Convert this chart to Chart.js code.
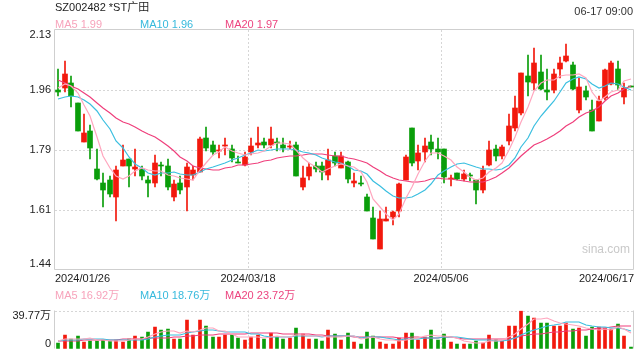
<!DOCTYPE html>
<html><head><meta charset="utf-8">
<script src="https://cdn.jsdelivr.net/npm/chart.js@4.4.1/dist/chart.umd.min.js"></script>
<style>
html,body{margin:0;padding:0;background:#fff;}
#wrap{position:relative;width:640px;height:360px;overflow:hidden;font-family:"Liberation Sans","Noto Sans CJK SC",Arial,sans-serif;}
.t{position:absolute;font-size:11px;line-height:14px;white-space:nowrap;}
canvas{position:absolute;left:0;}
</style></head><body>
<div id="wrap">
<canvas id="c1" width="640" height="292" style="top:0"></canvas>
<canvas id="c2" width="640" height="60" style="top:300px"></canvas>
</div>
<script>
// ---------- data ----------
const stockTitle = 'SZ002482 *ST广田';
const stamp = '06-17 09:00';
const opens  = [1.957,1.963,1.978,1.920,1.809,1.840,1.729,1.690,1.698,1.651,
1.740,1.759,1.731,1.730,1.698,1.690,1.740,1.739,1.651,1.690,
1.680,1.713,1.722,1.820,1.799,1.781,1.797,1.788,1.751,1.741,
1.780,1.800,1.807,1.800,1.808,1.800,1.793,1.799,1.680,1.711,
1.738,1.740,1.714,1.769,1.732,1.750,1.691,1.689,1.649,1.590,
1.501,1.582,1.591,1.611,1.700,1.848,1.752,1.779,1.808,1.788,
1.788,1.701,1.719,1.702,1.711,1.698,1.671,1.741,1.788,1.769,
1.810,1.848,1.891,1.998,1.978,2.009,1.957,1.958,2.019,2.040,
2.028,1.901,1.956,1.901,1.869,1.934,1.975,2.018,1.937,1.968];
const highs  = [2.019,2.040,1.999,1.921,1.888,1.858,1.789,1.719,1.709,1.738,
1.798,1.760,1.789,1.738,1.709,1.770,1.750,1.759,1.698,1.709,
1.748,1.740,1.821,1.850,1.810,1.800,1.820,1.800,1.769,1.778,
1.820,1.850,1.820,1.850,1.820,1.820,1.810,1.809,1.740,1.748,
1.750,1.750,1.789,1.779,1.779,1.752,1.719,1.709,1.659,1.620,
1.611,1.620,1.611,1.690,1.771,1.848,1.798,1.820,1.829,1.820,
1.788,1.714,1.719,1.728,1.719,1.698,1.740,1.810,1.800,1.798,
1.888,1.939,2.006,2.059,2.078,2.059,2.017,2.019,2.051,2.090,
2.038,1.992,1.968,1.930,1.939,2.017,2.040,2.040,1.978,1.970];
const lows   = [1.939,1.952,1.909,1.839,1.808,1.760,1.700,1.620,1.650,1.580,
1.740,1.680,1.709,1.700,1.650,1.680,1.709,1.670,1.639,1.659,
1.611,1.700,1.722,1.781,1.771,1.762,1.770,1.750,1.748,1.740,
1.771,1.791,1.791,1.791,1.781,1.780,1.788,1.711,1.670,1.700,
1.722,1.700,1.700,1.738,1.732,1.690,1.680,1.681,1.611,1.530,
1.501,1.580,1.570,1.591,1.700,1.740,1.728,1.750,1.772,1.760,
1.690,1.681,1.700,1.695,1.697,1.631,1.661,1.738,1.752,1.760,
1.800,1.839,1.886,1.939,1.958,1.958,1.930,1.949,1.992,2.038,
1.958,1.891,1.930,1.840,1.869,1.930,1.971,1.958,1.917,1.965];
const closes = [1.951,2.003,1.939,1.840,1.834,1.792,1.702,1.671,1.659,1.727,
1.755,1.740,1.737,1.711,1.691,1.748,1.738,1.680,1.687,1.670,
1.736,1.727,1.817,1.791,1.780,1.785,1.800,1.761,1.749,1.765,
1.796,1.805,1.800,1.817,1.805,1.791,1.796,1.711,1.704,1.736,
1.731,1.722,1.757,1.748,1.769,1.703,1.696,1.687,1.611,1.530,
1.587,1.587,1.608,1.687,1.765,1.748,1.775,1.796,1.789,1.779,
1.708,1.704,1.702,1.716,1.709,1.671,1.727,1.785,1.769,1.794,
1.853,1.906,2.006,1.980,2.035,1.961,1.951,2.003,2.035,2.054,
1.961,1.965,1.938,1.840,1.927,2.016,2.035,1.971,1.963,1.966];
const ma5  = [1.962,1.975,1.970,1.950,1.913,1.882,1.821,1.768,1.732,1.710,
1.703,1.710,1.724,1.734,1.727,1.725,1.725,1.714,1.709,1.705,
1.702,1.700,1.727,1.748,1.770,1.780,1.795,1.783,1.775,1.772,
1.774,1.775,1.783,1.797,1.805,1.804,1.802,1.784,1.761,1.748,
1.736,1.721,1.730,1.739,1.745,1.740,1.735,1.721,1.693,1.645,
1.622,1.600,1.585,1.600,1.647,1.679,1.717,1.754,1.775,1.777,
1.769,1.755,1.736,1.722,1.708,1.700,1.705,1.722,1.732,1.749,
1.786,1.821,1.866,1.908,1.956,1.978,1.987,1.986,1.997,2.001,
2.001,2.004,1.991,1.952,1.926,1.937,1.951,1.958,1.982,1.990];
const ma10 = [1.932,1.937,1.940,1.937,1.930,1.918,1.896,1.870,1.845,1.812,
1.792,1.766,1.746,1.733,1.719,1.714,1.718,1.719,1.721,1.716,
1.714,1.713,1.721,1.729,1.737,1.741,1.747,1.755,1.762,1.771,
1.777,1.785,1.783,1.786,1.788,1.789,1.789,1.784,1.779,1.776,
1.770,1.761,1.757,1.750,1.747,1.738,1.728,1.725,1.716,1.695,
1.681,1.668,1.653,1.647,1.646,1.651,1.659,1.669,1.687,1.712,
1.724,1.736,1.745,1.748,1.743,1.735,1.730,1.729,1.727,1.729,
1.743,1.763,1.794,1.820,1.853,1.882,1.904,1.926,1.952,1.978,
1.989,1.995,1.988,1.974,1.964,1.969,1.977,1.974,1.967,1.958];
const ma20 = [1.987,1.978,1.970,1.960,1.949,1.936,1.921,1.905,1.890,1.877,
1.866,1.860,1.851,1.841,1.831,1.822,1.811,1.797,1.781,1.764,
1.753,1.739,1.733,1.731,1.728,1.728,1.733,1.737,1.742,1.743,
1.745,1.749,1.752,1.757,1.763,1.765,1.768,1.769,1.770,1.774,
1.773,1.773,1.770,1.768,1.767,1.763,1.758,1.754,1.748,1.736,
1.725,1.714,1.705,1.698,1.696,1.694,1.693,1.697,1.702,1.704,
1.703,1.702,1.699,1.697,1.694,1.693,1.694,1.699,1.707,1.720,
1.734,1.750,1.769,1.784,1.798,1.808,1.817,1.827,1.840,1.853,
1.866,1.879,1.891,1.897,1.908,1.925,1.941,1.950,1.960,1.968];
const volumes = [7,15,11,14,7.6,8.6,8.6,9.7,8.6,10,
8,11,14,12.5,18,22.8,19.6,20.4,11,10.5,
30.6,15,29.8,23.5,12.5,13,14.4,14.4,11.8,9.4,
12.5,15,10.5,16.5,13,10.5,11.8,22,15.7,10.5,
10.5,8.6,19.6,15.7,9.4,16.5,7.8,5.8,18,13.3,
7.8,5.5,5.5,11.8,16.5,16.5,9.4,13,19.6,10,
15.7,7.8,5.5,5.5,5.5,8.6,7,15,9.4,8.6,
23.5,24.3,39.77,34.5,32.2,26.7,27.5,23.5,24.3,27.5,
20.4,22,13.3,22.8,22.8,22,20.4,25.9,14,2.5];
const volMa5 = [9.0,10.2,10.5,11.0,10.92,11.24,9.96,9.70,8.62,9.10,
8.98,9.46,10.32,11.10,12.70,15.66,17.38,18.66,18.36,16.86,
18.42,17.50,19.38,21.88,22.28,18.76,18.64,15.56,13.22,12.60,
12.50,12.62,11.84,12.78,13.50,13.10,12.46,14.76,14.60,14.10,
14.10,13.46,12.98,12.98,12.76,13.96,13.80,11.04,11.50,12.28,
10.54,10.08,10.02,8.78,9.42,11.16,11.94,13.44,15.00,13.70,
13.54,13.22,11.72,8.90,8.00,6.58,6.42,8.32,9.10,9.72,
12.70,16.16,21.11,26.13,30.85,31.49,32.13,28.88,26.84,25.90,
24.64,23.54,21.50,21.20,20.26,20.58,20.26,22.78,21.02,16.96];
const volMa10 = [9.0,9.3,9.6,10.0,10.2,10.5,10.3,10.2,10.0,10.01,
10.11,9.71,10.01,9.86,10.90,12.32,13.42,14.49,14.73,14.78,
17.04,17.44,19.02,20.12,19.57,18.59,18.07,17.47,17.55,17.44,
15.63,15.63,13.70,13.00,13.05,12.80,12.54,13.30,13.69,13.80,
13.60,12.96,13.87,13.79,13.43,14.03,13.63,12.01,12.24,12.52,
12.25,11.94,10.53,10.14,10.85,10.85,11.01,11.73,11.89,11.56,
12.35,12.58,12.58,11.95,10.85,10.06,9.82,10.02,9.00,8.86,
9.64,11.29,14.72,17.62,20.29,22.10,24.15,25.00,26.49,28.38,
28.07,27.84,25.19,24.02,23.08,22.61,21.90,22.14,21.11,18.61];
const volMa20 = [8.5,8.6,8.8,9.0,9.2,9.4,9.5,9.6,9.8,10.0,
10.2,10.4,10.6,10.9,11.2,11.5,11.8,12.0,12.2,12.40,
13.58,13.58,14.52,14.99,15.24,15.46,15.75,15.98,16.14,16.11,
16.34,16.54,16.36,16.56,16.31,15.70,15.31,15.39,15.62,15.62,
14.62,14.30,13.79,13.40,13.24,13.42,13.09,12.66,12.97,13.16,
12.93,12.45,12.20,11.97,12.14,12.44,12.32,11.87,12.07,12.04,
12.30,12.26,11.56,11.05,10.85,10.46,10.42,10.88,10.45,10.21,
11.00,11.94,13.65,14.78,15.57,16.08,16.98,17.51,17.74,18.62,
18.85,19.56,19.95,20.82,21.68,22.35,23.02,23.57,23.80,23.49];
const maNames = ['MA5','MA10','MA20'];
const priceMaLegend = ['1.99','1.96','1.97'];
const volMaLegend = ['16.92万','18.76万','23.72万'];
const xTickIndex = [0,30,60,89];
const xTickLabels = ['2024/01/26','2024/03/18','2024/05/06','2024/06/17'];
const yTickValues = [1.44,1.6125,1.785,1.9575,2.13];
const yTickLabels = ['1.44','1.61','1.79','1.96','2.13'];
const volTickValues = [0,39.77];
const volTickLabels = ['0','39.77万'];

// ---------- styles ----------
const FONT = '"Liberation Sans","Noto Sans CJK SC",Arial,sans-serif';
const RED = '#f2190d', GREEN = '#0a9e0a';
const MA_COLORS = ['#ffa6be','#3bbfe0','#ef3f7c'];
const LEG_COLORS = ['#f7a3bb','#36b9dc','#ec447f'];
const GRID = '#d6d6d6', FRAME = '#cfcfcf';
Chart.defaults.font.family = FONT;
Chart.defaults.font.size = 11;

const wrap = document.getElementById('wrap');
function addText(txt, css){ const d=document.createElement('div'); d.className='t'; d.textContent=txt; Object.assign(d.style, css); wrap.appendChild(d); return d; }
addText(stockTitle, {left:'55px', top:'0px', color:'#222', fontSize:'11px', lineHeight:'15px'});
addText(stamp, {right:'7px', top:'4px', color:'#333'});
const legX = [55,140,225];
maNames.forEach((n,k)=>addText(n+' '+priceMaLegend[k], {left:legX[k]+'px', top:'17px', color:LEG_COLORS[k]}));
maNames.forEach((n,k)=>addText(n+' '+volMaLegend[k], {left:legX[k]+'px', top:'288px', color:LEG_COLORS[k]}));
addText('sina.com', {left:'582px', top:'242px', color:'#c9c9c9', fontSize:'12px'});

const N = closes.length;
const idx = closes.map((_, i) => i);
const barColors = idx.map(i => closes[i] >= opens[i] ? RED : GREEN);
const pts = arr => idx.map(i => ({x:i, y:arr[i]}));

const framePlugin = {
  id: 'frame',
  beforeDatasetsDraw(chart, args, o) {
    const {ctx, chartArea:a} = chart;
    ctx.save(); ctx.strokeStyle = FRAME; ctx.lineWidth = 1; ctx.setLineDash([]);
    const L = Math.round(a.left)-0.5, R = Math.round(a.right)-0.5, T = Math.round(a.top)-0.5, B = Math.round(a.bottom)-0.5;
    ctx.beginPath();
    if (o.top) { ctx.moveTo(L,T); ctx.lineTo(R,T); }
    if (o.bottom) { ctx.moveTo(L,B); ctx.lineTo(R,B); }
    if (o.left) { ctx.moveTo(L,T); ctx.lineTo(L,B); }
    if (o.right) { ctx.moveTo(R,T); ctx.lineTo(R,B); }
    ctx.stroke(); ctx.restore();
  }
};

function xScale(showLabels, height) {
  return {
    type:'linear', min:-0.5, max:N-0.5, offset:false, alignToPixels:true,
    afterBuildTicks: s => { s.ticks = xTickIndex.map((v,k) => ({value: k === xTickIndex.length-1 ? v+0.5 : v-0.5})); },
    ticks:{display:showLabels, callback:(v,k)=>xTickLabels[k], align:'inner', autoSkip:false, maxRotation:0, minRotation:0, padding:2, color:'#222', font:{size:11}},
    grid:{offset:false, drawTicks:false, lineWidth:1, color: c => (c.index===0 || c.index===xTickIndex.length-1) ? 'rgba(0,0,0,0)' : GRID},
    border:{display:false, dash:[2,2]},
    afterFit: s => { s.height = height; }
  };
}
function barDs(data, width, order, yId) {
  return {type:'bar', data, backgroundColor:barColors, grouped:false, barPercentage:1, categoryPercentage:1,
          maxBarThickness:width, minBarLength:1, order, xAxisID:'x', yAxisID:yId, borderWidth:0};
}
function lineDs(arr, k) {
  return {type:'line', data:pts(arr), borderColor:MA_COLORS[k], borderWidth:1.2, pointRadius:0, tension:0, order:0, xAxisID:'x', yAxisID:'y', fill:false};
}

// ---------- price chart ----------
const yMin = yTickValues[0], yMax = yTickValues[yTickValues.length-1];
const pxToVal = (px, span) => (yMax - yMin) * px / span;
new Chart(document.getElementById('c1').getContext('2d'), {
  type:'bar',
  data:{datasets:[
    lineDs(ma5,0), lineDs(ma10,1), lineDs(ma20,2),
    barDs(idx.map(i=>({x:i, y:[opens[i], closes[i]]})), 5, 1, 'y'),
    barDs(idx.map(i=>({x:i, y:[lows[i], highs[i]]})), 1, 2, 'y')
  ]},
  options:{
    responsive:false, animation:false, events:[],
    layout:{padding:{top:30, right:6, left:0, bottom:0}},
    plugins:{legend:{display:false}, tooltip:{enabled:false}, frame:{top:true,bottom:true,left:true,right:true}},
    scales:{
      x: xScale(true, 22),
      y:{type:'linear', position:'left', min:yMin, max:yMax, alignToPixels:true,
         afterBuildTicks: s => { s.ticks = yTickValues.map(v=>({value:v})); },
         ticks:{display:false}, grid:{drawTicks:false, color: c => (c.index===0 || c.index===yTickValues.length-1) ? 'rgba(0,0,0,0)' : GRID},
         border:{display:false, dash:[2,2]}, afterFit: s => { s.width = 0; }},
      yl:{type:'linear', position:'left', min:yMin, max:yMax,
         afterBuildTicks: s => { s.ticks = yTickValues.map((v,k)=>({value: k===0 ? v + pxToVal(6,240) : (k===yTickValues.length-1 ? v - pxToVal(5,240) : v)})); },
         ticks:{callback:(v,k)=>yTickLabels[k], padding:4, color:'#222', font:{size:11}},
         grid:{display:false, drawTicks:false}, border:{display:false}, afterFit: s => { s.width = 55; }}
    }
  },
  plugins:[framePlugin]
});

// ---------- volume chart ----------
const vMax = volTickValues[1];
new Chart(document.getElementById('c2').getContext('2d'), {
  type:'bar',
  data:{datasets:[
    lineDs(volMa5,0), lineDs(volMa10,1), lineDs(volMa20,2),
    barDs(idx.map(i=>({x:i, y:volumes[i]})), 3, 1, 'y')
  ]},
  options:{
    responsive:false, animation:false, events:[],
    layout:{padding:{top:4, right:6, left:0, bottom:4}},
    plugins:{legend:{display:false}, tooltip:{enabled:false}, frame:{left:true,right:true}},
    scales:{
      x: xScale(false, 0),
      y:{type:'linear', position:'left', min:0, max:vMax, alignToPixels:true,
         afterBuildTicks: s => { s.ticks = volTickValues.map(v=>({value:v})); },
         ticks:{display:false}, grid:{drawTicks:false, color: c => c.index===volTickValues.length-1 ? GRID : 'rgba(0,0,0,0)'},
         border:{display:false, dash:[2,2]}, afterFit: s => { s.width = 0; }},
      yl:{type:'linear', position:'left', min:0, max:vMax,
         afterBuildTicks: s => { s.ticks = volTickValues.map((v,k)=>({value: k===0 ? v + vMax*7/52 : v - vMax*7.5/52})); },
         ticks:{callback:(v,k)=>volTickLabels[k], padding:4, color:'#222', font:{size:11}},
         grid:{display:false, drawTicks:false}, border:{display:false}, afterFit: s => { s.width = 55; }}
    }
  },
  plugins:[framePlugin]
});
</script>
</body></html>
